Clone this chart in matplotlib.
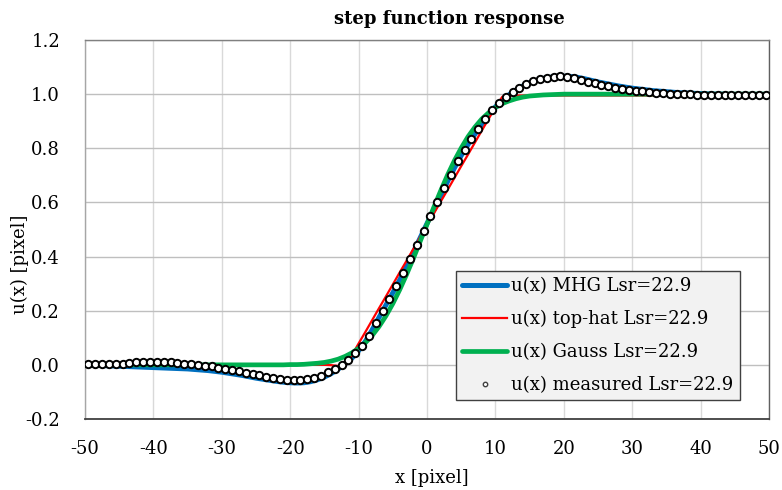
import matplotlib
matplotlib.use('Agg')
import matplotlib.pyplot as plt
import numpy as np

plt.rcParams['font.family'] = ['DejaVu Serif']

# ---------------- data ----------------
x_line = list(range(-50, 51))            # model curves sampled every pixel
x_meas = list(np.arange(-49.5, 50.0, 1.0))  # measured samples (pixel centres)

mhg = [
    0.000, -0.001, -0.002, -0.003, -0.004, -0.005, -0.006, -0.007, -0.008, -0.009,
    -0.010, -0.011, -0.012, -0.013, -0.014, -0.015, -0.017, -0.019, -0.021, -0.024,
    -0.027, -0.031, -0.035, -0.039, -0.044, -0.049, -0.053, -0.057, -0.061, -0.064,
    -0.066, -0.067, -0.066, -0.062, -0.055, -0.045, -0.032, -0.016, 0.002, 0.024,
    0.052, 0.087, 0.130, 0.176, 0.221, 0.266, 0.313, 0.363, 0.416, 0.469,
    0.522, 0.574, 0.625, 0.677, 0.727, 0.773, 0.814, 0.852, 0.889, 0.923,
    0.953, 0.978, 0.998, 1.015, 1.030, 1.042, 1.051, 1.058, 1.062, 1.065,
    1.066, 1.065, 1.062, 1.057, 1.051, 1.045, 1.040, 1.035, 1.030, 1.026,
    1.022, 1.019, 1.016, 1.013, 1.011, 1.009, 1.007, 1.005, 1.004, 1.003,
    1.002, 1.001, 1.000, 1.000, 0.999, 0.999, 0.999, 0.999, 0.999, 0.999,
    0.999,
]

tophat = [
    0.000, 0.000, 0.000, 0.000, 0.000, 0.000, 0.000, 0.000, 0.000, 0.000,
    0.000, 0.000, 0.000, 0.000, 0.000, 0.000, 0.000, 0.000, 0.000, 0.000,
    0.000, 0.000, 0.000, 0.000, 0.000, 0.000, 0.000, 0.000, 0.000, 0.000,
    0.000, 0.000, 0.000, 0.000, 0.000, 0.000, -0.001, -0.004, -0.008, 0.035,
    0.079, 0.122, 0.166, 0.210, 0.253, 0.297, 0.341, 0.384, 0.428, 0.472,
    0.515, 0.559, 0.603, 0.646, 0.690, 0.734, 0.777, 0.821, 0.865, 0.908,
    0.952, 0.990, 0.995, 0.995, 0.995, 0.995, 0.995, 0.995, 0.995, 0.995,
    0.995, 0.995, 0.995, 0.995, 0.995, 0.995, 0.995, 0.995, 0.995, 0.995,
    0.995, 0.995, 0.995, 0.995, 0.995, 0.995, 0.995, 0.995, 0.995, 0.995,
    0.995, 0.995, 0.995, 0.995, 0.995, 0.995, 0.995, 0.995, 0.995, 0.995,
    0.995,
]

gauss = [
    0.000, 0.000, 0.000, 0.000, 0.000, 0.000, 0.000, 0.000, 0.000, 0.000,
    0.000, 0.000, 0.000, 0.000, 0.000, 0.000, 0.000, 0.000, 0.000, 0.000,
    0.000, 0.000, 0.000, 0.000, 0.000, 0.000, 0.000, 0.000, 0.000, 0.000,
    0.001, 0.001, 0.002, 0.004, 0.006, 0.009, 0.014, 0.021, 0.031, 0.044,
    0.061, 0.082, 0.109, 0.142, 0.181, 0.226, 0.277, 0.333, 0.393, 0.456,
    0.519, 0.582, 0.643, 0.701, 0.754, 0.801, 0.843, 0.878, 0.908, 0.931,
    0.950, 0.965, 0.975, 0.983, 0.989, 0.993, 0.995, 0.997, 0.998, 0.999,
    1.000, 1.000, 1.000, 1.000, 1.000, 1.000, 1.000, 1.000, 1.000, 1.000,
    1.000, 1.000, 1.000, 1.000, 1.000, 1.000, 1.000, 1.000, 1.000, 1.000,
    1.000, 1.000, 1.000, 1.000, 1.000, 1.000, 1.000, 1.000, 1.000, 1.000,
    1.000,
]

measured = [
    0.004, 0.004, 0.004, 0.004, 0.004,
    0.005, 0.007, 0.009, 0.010, 0.011, 0.011, 0.010, 0.009, 0.007, 0.005,
    0.003, 0.000, -0.003, -0.006, -0.010, -0.014, -0.019, -0.024, -0.029, -0.034,
    -0.039, -0.044, -0.049, -0.053, -0.055, -0.056, -0.056, -0.054, -0.049, -0.040,
    -0.028, -0.015, 0.000, 0.018, 0.042, 0.070, 0.108, 0.153, 0.200, 0.243,
    0.290, 0.338, 0.390, 0.444, 0.496, 0.550, 0.600, 0.652, 0.703, 0.752,
    0.795, 0.834, 0.871, 0.908, 0.940, 0.968, 0.990, 1.007, 1.024, 1.037,
    1.047, 1.055, 1.061, 1.065, 1.066, 1.064, 1.060, 1.053, 1.046, 1.040,
    1.034, 1.029, 1.024, 1.020, 1.016, 1.013, 1.010, 1.008, 1.006, 1.004,
    1.002, 1.001, 1.000, 0.999, 0.998, 0.998, 0.997, 0.997, 0.997, 0.997,
    0.997, 0.997, 0.997, 0.997, 0.997,
]

series_labels = ["u(x) MHG Lsr=22.9", "u(x) top-hat Lsr=22.9",
                 "u(x) Gauss Lsr=22.9", "u(x) measured Lsr=22.9"]
x_ticks = [-50, -40, -30, -20, -10, 0, 10, 20, 30, 40, 50]
x_tick_labels = ["-50", "-40", "-30", "-20", "-10", "0", "10", "20", "30", "40", "50"]
y_ticks = [-0.2, 0.0, 0.2, 0.4, 0.6, 0.8, 1.0, 1.2]
y_tick_labels = ["-0.2", "0.0", "0.2", "0.4", "0.6", "0.8", "1.0", "1.2"]

# ---------------- figure ----------------
W, H = 782, 490
fig = plt.figure(figsize=(W / 100, H / 100), dpi=100)
ax = fig.add_axes([85 / W, 1 - 419 / H, 684 / W, 379 / H])

ax.plot(x_line, mhg, color='#0070C0', lw=3.6, solid_capstyle='round',
        label=series_labels[0], zorder=3)
ax.plot(x_line, tophat, color='#FF0000', lw=1.6, label=series_labels[1], zorder=4)
ax.plot(x_line, gauss, color='#00B050', lw=3.4, solid_capstyle='round',
        label=series_labels[2], zorder=5)
ax.plot(x_meas, measured, ls='none', marker='o', ms=5.3, mfc='white',
        mec='black', mew=1.4, label=series_labels[3], zorder=6)

ax.set_xlim(-50, 50)
ax.set_ylim(-0.2, 1.2)
ax.set_xticks(x_ticks)
ax.set_xticklabels(x_tick_labels)
ax.set_yticks(y_ticks)
ax.set_yticklabels(y_tick_labels)
ax.tick_params(length=0, labelsize=13, colors='black')
ax.tick_params(axis='x', pad=15)
ax.tick_params(axis='y', pad=18)

ax.set_axisbelow(True)
ax.yaxis.grid(True, color='#bfbfbf', lw=1.0)
ax.xaxis.grid(True, color='#d9d9d9', lw=1.0)

ax.spines['left'].set_color('#a6a6a6')
ax.spines['top'].set_color('#808080')
ax.spines['right'].set_color('#606060')
ax.spines['bottom'].set_color('#404040')
for s in ax.spines.values():
    s.set_linewidth(1.0)
ax.spines['bottom'].set_linewidth(1.3)

fig.text(449 / W, 1 - 19 / H, "step function response", ha='center', va='center',
         fontsize=13, fontweight='bold')
fig.text(20 / W, 1 - 264 / H, "u(x) [pixel]", rotation=90, ha='center', va='center',
         fontsize=13)
fig.text(432 / W, 1 - 478 / H, "x [pixel]", ha='center', va='center', fontsize=13)

leg = ax.legend(loc='upper left', bbox_to_anchor=(456 / W, 1 - 271 / H),
                bbox_transform=fig.transFigure, frameon=True, fancybox=False,
                edgecolor='#404040', facecolor='#f2f2f2', framealpha=1,
                borderaxespad=0, borderpad=0.35, handlelength=2.5,
                handletextpad=0.2, labelspacing=0.82, fontsize=13,
                markerscale=0.6)
leg.get_frame().set_linewidth(1.0)
leg.set_zorder(10)
mh = leg.legend_handles[3]
mh.set_markeredgecolor('#404040')
mh.set_markeredgewidth(1.0)

fig.savefig('out.png', dpi=100)
